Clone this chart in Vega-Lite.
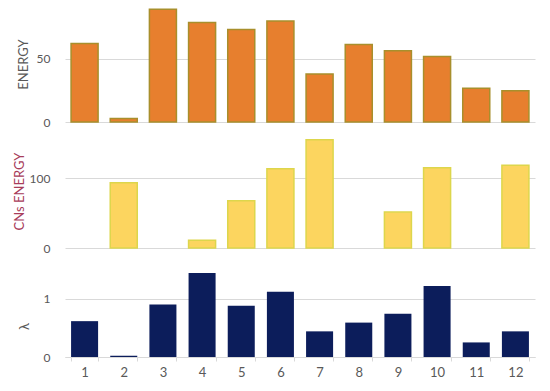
{
  "$schema": "https://vega.github.io/schema/vega-lite/v6.json",
  "padding": {"left": 13, "top": 6, "right": 14, "bottom": 5},
  "bounds": "flush",
  "spacing": 12,
  "background": "white",
  "config": {
    "view": {"stroke": null},
    "font": "Lato",
    "axis": {
      "labelFont": "Lato",
      "labelFontSize": 12,
      "labelColor": "#595959",
      "titleFont": "Lato",
      "titleFontSize": 13,
      "titleFontWeight": "normal",
      "titleColor": "#595959",
      "gridColor": "#D9D9D9",
      "domainColor": "#D9D9D9",
      "tickColor": "#D9D9D9"
    }
  },
  "data": {
    "values": [
      {"m": 1, "energy": 62.2, "cns": null, "lambda": 0.615},
      {"m": 2, "energy": 2.7, "cns": 93.8, "lambda": 0.02},
      {"m": 3, "energy": 89.4, "cns": null, "lambda": 0.90},
      {"m": 4, "energy": 79.0, "cns": 11.0, "lambda": 1.44},
      {"m": 5, "energy": 73.4, "cns": 67.8, "lambda": 0.88},
      {"m": 6, "energy": 80.1, "cns": 113.6, "lambda": 1.12},
      {"m": 7, "energy": 38.0, "cns": 155.4, "lambda": 0.44},
      {"m": 8, "energy": 61.4, "cns": null, "lambda": 0.59},
      {"m": 9, "energy": 56.6, "cns": 51.5, "lambda": 0.74},
      {"m": 10, "energy": 51.9, "cns": 115.0, "lambda": 1.22},
      {"m": 11, "energy": 26.7, "cns": null, "lambda": 0.25},
      {"m": 12, "energy": 24.7, "cns": 118.9, "lambda": 0.44}
    ]
  },
  "vconcat": [
    {
      "width": 470,
      "height": 116,
      "mark": {"type": "bar", "fill": "#E77F2E", "stroke": "#A88F2C", "strokeWidth": 1.5},
      "encoding": {
        "x": {"field": "m", "type": "ordinal", "scale": {"domain": [1,2,3,4,5,6,7,8,9,10,11,12], "paddingInner": 0.31, "paddingOuter": 0.155}, "axis": null},
        "y": {
          "field": "energy", "type": "quantitative",
          "scale": {"domain": [0, 92], "nice": false},
          "axis": {"title": "ENERGY", "values": [0, 50], "grid": true, "domain": false, "ticks": false, "labelPadding": 15, "titlePadding": 6}
        }
      }
    },
    {
      "width": 470,
      "height": 114,
      "mark": {"type": "bar", "fill": "#FCD55F", "stroke": "#DDD64C", "strokeWidth": 1.5},
      "encoding": {
        "x": {"field": "m", "type": "ordinal", "scale": {"domain": [1,2,3,4,5,6,7,8,9,10,11,12], "paddingInner": 0.31, "paddingOuter": 0.155}, "axis": null},
        "y": {
          "field": "cns", "type": "quantitative",
          "scale": {"domain": [0, 163.6], "nice": false},
          "axis": {"title": "CNs ENERGY", "titleColor": "#A83C5A", "values": [0, 100], "grid": true, "domain": false, "ticks": false, "labelPadding": 15, "titlePadding": 3}
        }
      }
    },
    {
      "width": 470,
      "height": 97,
      "mark": {"type": "bar", "fill": "#0C1D5B"},
      "encoding": {
        "x": {
          "field": "m", "type": "ordinal",
          "scale": {"domain": [1,2,3,4,5,6,7,8,9,10,11,12], "paddingInner": 0.31, "paddingOuter": 0.155},
          "axis": {"title": null, "labelAngle": 0, "tickBand": "extent", "tickSize": 4, "labelPadding": 5, "labelFontSize": 13, "domainColor": "#D9D9D9"}
        },
        "y": {
          "field": "lambda", "type": "quantitative",
          "scale": {"domain": [0, 1.664], "nice": false},
          "axis": {"title": "λ", "titleY": 66, "values": [0, 1], "grid": true, "domain": false, "ticks": false, "labelPadding": 15, "titlePadding": 12}
        }
      }
    }
  ]
}
